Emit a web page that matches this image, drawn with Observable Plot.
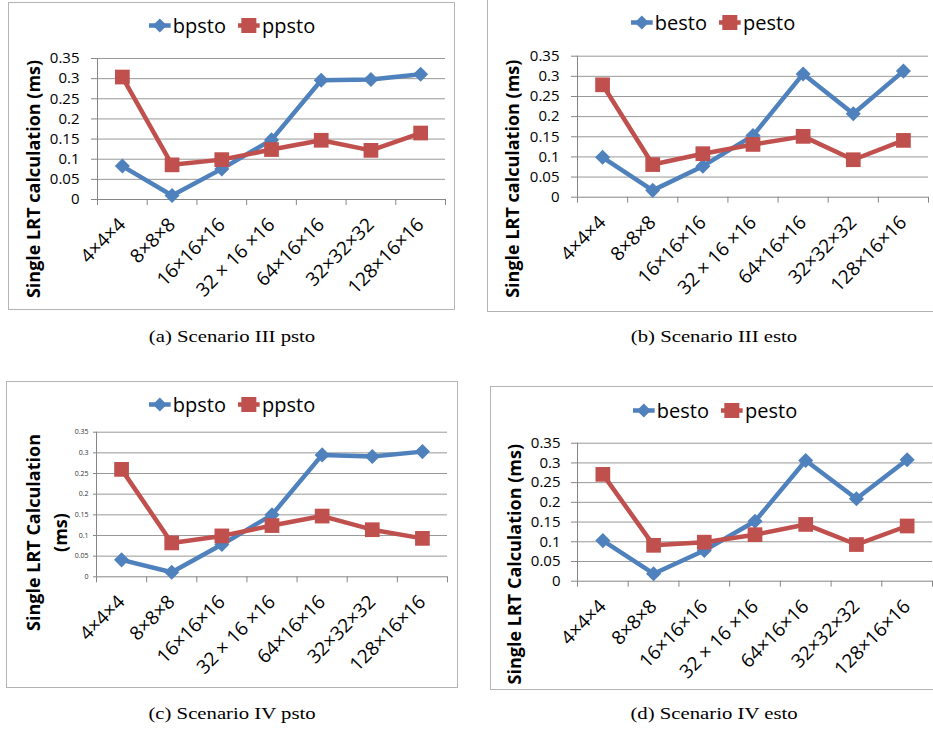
<!DOCTYPE html>
<html><head><meta charset="utf-8">
<script src="https://cdn.jsdelivr.net/npm/d3@7"></script>
<script src="https://cdn.jsdelivr.net/npm/@observablehq/plot@0.6"></script>
<style>
body{margin:0;background:#fff;}
#page{position:relative;width:933px;height:733px;overflow:hidden;background:#fff;font-family:"Open Sans",sans-serif;}
.box{position:absolute;border:1px solid #b4b4b4;box-sizing:border-box;}
.panel{position:absolute;}
.legend{position:absolute;display:flex;align-items:center;font-size:20px;color:#000;white-space:nowrap;transform:translate(-50%,-50%);font-family:"Open Sans",sans-serif;}
.legend svg{display:block;}
.cap{position:absolute;font-family:"Liberation Serif",serif;font-size:17px;color:#000;white-space:nowrap;transform:translateX(-50%) scaleX(1.22);line-height:1;}
</style></head><body><div id="page"></div>
<script>
const categories = ["4×4×4","8×8×8","16×16×16","32 × 16 ×16","64×16×16","32×32×32","128×16×16"];
const yTicks = [0,0.05,0.1,0.15,0.2,0.25,0.3,0.35];
const yTickLabels = ["0","0.05","0.1","0.15","0.2","0.25","0.3","0.35"];

const bpstoIII = [0.083, 0.010, 0.076, 0.148, 0.296, 0.298, 0.311];
const ppstoIII = [0.304, 0.086, 0.099, 0.124, 0.147, 0.122, 0.165];
const bestoIII = [0.099, 0.017, 0.077, 0.153, 0.306, 0.207, 0.313];
const pestoIII = [0.279, 0.081, 0.108, 0.131, 0.151, 0.093, 0.141];
const bpstoIV  = [0.041, 0.011, 0.078, 0.150, 0.295, 0.291, 0.303];
const ppstoIV  = [0.260, 0.082, 0.099, 0.124, 0.147, 0.114, 0.093];
const bestoIV  = [0.103, 0.019, 0.078, 0.152, 0.306, 0.209, 0.308];
const pestoIV  = [0.271, 0.091, 0.099, 0.118, 0.144, 0.093, 0.140];

const legendPsto = ["bpsto","ppsto"];
const legendEsto = ["besto","pesto"];
const yLabelLower = "Single LRT calculation (ms)";
const yLabelUpper = "Single LRT Calculation (ms)";
const yLabelUpperTwoLine = "Single LRT Calculation\n(ms)";
const captions = ["(a) Scenario III psto","(b) Scenario III esto","(c) Scenario IV psto","(d) Scenario IV esto"];

const BLUE = "#4F81BD", RED = "#C0504D", GRID = "#989898", AXIS = "#868686";
const page = document.getElementById("page");

function legendIcon(kind, color) {
  const ns = "http://www.w3.org/2000/svg";
  const s = document.createElementNS(ns, "svg");
  s.setAttribute("width", 22); s.setAttribute("height", 16);
  const l = document.createElementNS(ns, "line");
  l.setAttribute("x1", 0); l.setAttribute("x2", 22); l.setAttribute("y1", 8); l.setAttribute("y2", 8);
  l.setAttribute("stroke", color); l.setAttribute("stroke-width", 4.5);
  s.appendChild(l);
  if (kind === "diamond") {
    const p = document.createElementNS(ns, "polygon");
    p.setAttribute("points", "11,1 18,8 11,15 4,8");
    p.setAttribute("fill", color); s.appendChild(p);
  } else {
    const r = document.createElementNS(ns, "rect");
    r.setAttribute("x", 3.5); r.setAttribute("y", 0.5); r.setAttribute("width", 15); r.setAttribute("height", 15);
    r.setAttribute("fill", color); s.appendChild(r);
  }
  return s;
}

function addLegend(names, cx, cy) {
  const d = document.createElement("div");
  d.className = "legend";
  d.style.left = cx + "px"; d.style.top = cy + "px";
  const kinds = ["diamond","square"], colors = [BLUE, RED];
  names.forEach((n, k) => {
    const ic = legendIcon(kinds[k], colors[k]);
    ic.style.marginRight = "2px";
    if (k === 1) ic.style.marginLeft = "12px";
    d.appendChild(ic);
    const t = document.createElement("span"); t.textContent = n; d.appendChild(t);
  });
  page.appendChild(d);
}

function addBox(l, t, w, h) {
  const b = document.createElement("div");
  b.className = "box";
  Object.assign(b.style, {left: l + "px", top: t + "px", width: w + "px", height: h + "px"});
  page.appendChild(b);
}

function addCaption(text, cx, top) {
  const c = document.createElement("div");
  c.className = "cap"; c.textContent = text;
  c.style.left = cx + "px"; c.style.top = top + "px";
  page.appendChild(c);
}

function addPanel(cfg) {
  const rows = categories.map((c, i) => ({i: i + 0.5, b: cfg.s1[i], p: cfg.s2[i]}));
  const fmt = d => yTickLabels[yTicks.findIndex(v => Math.abs(v - d) < 1e-9)];
  const chart = Plot.plot({
    width: cfg.width, height: cfg.height,
    marginLeft: cfg.ml, marginRight: cfg.mr, marginTop: cfg.mt, marginBottom: cfg.mb,
    style: {fontFamily: "'Open Sans', sans-serif", background: "transparent", color: "#000", overflow: "visible"},
    x: {domain: [0, categories.length]},
    y: {domain: [0, 0.35]},
    marks: [
      Plot.ruleY(yTicks.slice(1), {stroke: GRID, strokeWidth: 1}),
      Plot.axisY({ticks: yTicks, tickSize: cfg.ytSize, tickPadding: cfg.ytPad, tickFormat: fmt,
                  fontSize: cfg.ytFont, stroke: AXIS, fill: cfg.ytColor, label: null}),
      Plot.axisX({ticks: d3.range(categories.length + 1), tickSize: 6, tickFormat: () => "", stroke: AXIS, label: null}),
      Plot.axisX({ticks: categories.map((c, i) => i + 0.5), tickSize: 0, tickPadding: cfg.xtPad, tickRotate: -45,
                  tickFormat: d => categories[Math.round(d - 0.5)], fontSize: cfg.xtFont, label: null}),
      Plot.ruleY([0], {stroke: AXIS, strokeWidth: 1}),
      Plot.ruleX([0], {y1: 0, y2: 0.35, stroke: AXIS, strokeWidth: 1}),
      Plot.line(rows, {x: "i", y: "b", stroke: BLUE, strokeWidth: 4.5, strokeLinejoin: "round"}),
      Plot.dot(rows, {x: "i", y: "b", symbol: "diamond2", r: 6.8, fill: BLUE, stroke: "none"}),
      Plot.line(rows, {x: "i", y: "p", stroke: RED, strokeWidth: 4.5, strokeLinejoin: "round"}),
      Plot.dot(rows, {x: "i", y: "p", symbol: "square", r: 8.3, fill: RED, stroke: "none"}),
      Plot.text([cfg.label], {text: d => d, frameAnchor: "left", textAnchor: "middle", dx: cfg.ldx, dy: cfg.ldy, rotate: -90,
                 fontWeight: "bold", fontSize: cfg.lFont, lineHeight: cfg.lLine || 1, fill: "#000"})
    ]
  });
  chart.classList.add("panel");
  chart.style.left = cfg.left + "px"; chart.style.top = cfg.top + "px";
  page.appendChild(chart);
}

// boxes
addBox(8, 2, 447, 308);
addBox(487, -1, 460, 313);
addBox(6, 381, 452, 307);
addBox(490, 386, 460, 304);

addPanel({left: 8, top: 2, width: 446, height: 307, ml: 89, mr: 9, mt: 56, mb: 110,
  s1: bpstoIII, s2: ppstoIII, ytSize: 6, ytPad: 12, ytFont: 15, ytColor: "#000", xtPad: 22, xtFont: 19,
  label: yLabelLower, ldx: -63, ldy: 50, lFont: 18});
addPanel({left: 487, top: 0, width: 446, height: 312, ml: 90, mr: 5, mt: 55.7, mb: 115.3,
  s1: bestoIII, s2: pestoIII, ytSize: 6, ytPad: 12, ytFont: 15, ytColor: "#000", xtPad: 22, xtFont: 19,
  label: yLabelLower, ldx: -64, ldy: 52, lFont: 18});
addPanel({left: 6, top: 381, width: 451, height: 306, ml: 90, mr: 10, mt: 50.7, mb: 110.7,
  s1: bpstoIV, s2: ppstoIV, ytSize: 3, ytPad: 5, ytFont: 7, ytColor: "#333", xtPad: 22, xtFont: 19,
  label: yLabelUpperTwoLine, ldx: -51.5, ldy: 28, lFont: 18, lLine: 1.5});
addPanel({left: 490, top: 386, width: 443, height: 303, ml: 87, mr: 1, mt: 56.7, mb: 108.3,
  s1: bestoIV, s2: pestoIV, ytSize: 6, ytPad: 11, ytFont: 15, ytColor: "#000", xtPad: 22, xtFont: 19,
  label: yLabelUpper, ldx: -62, ldy: 52, lFont: 18});

addLegend(legendPsto, 232, 25);
addLegend(legendEsto, 713, 22);
addLegend(legendPsto, 232, 404);
addLegend(legendEsto, 715, 410);

addCaption(captions[0], 232, 328);
addCaption(captions[1], 714, 328);
addCaption(captions[2], 232, 705);
addCaption(captions[3], 714, 705);
</script></body></html>
